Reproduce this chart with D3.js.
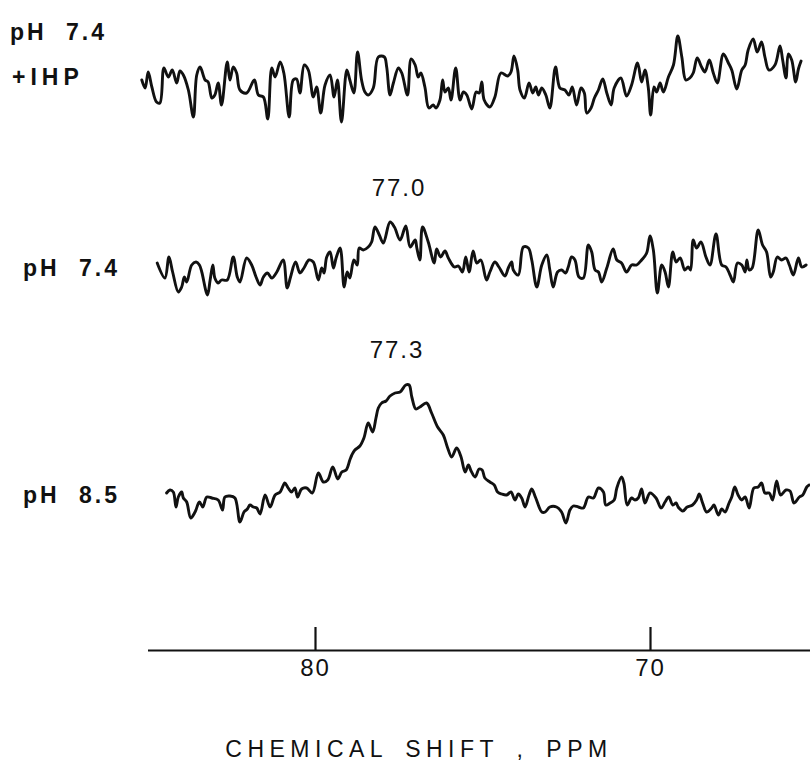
<!DOCTYPE html>
<html>
<head>
<meta charset="utf-8">
<script src="https://cdn.jsdelivr.net/npm/d3@7"></script>
<style>
  body { margin: 0; background: #fff; }
  text { font-family: "Liberation Sans", Arial, sans-serif; fill: #111; }
</style>
</head>
<body>
<div id="chart"></div>
<script>
// chemical shift (ppm), intensity (arbitrary units)
var ihp_trace = [
  [85.17,5],[85.07,-3],[84.98,13],[84.87,-2],[84.73,-17],[84.63,-18],[84.51,17],[84.38,8],[84.26,15],[84.13,2],
  [84.03,14],[83.93,10],[83.78,-5],[83.63,-32],[83.53,10],[83.43,18],[83.28,5],[83.19,3],[83.08,-13],[82.99,-10],
  [82.89,2],[82.79,-20],[82.62,23],[82.54,5],[82.44,18],[82.34,12],[82.24,-5],[82.04,-8],[81.81,5],[81.69,-10],
  [81.54,-12],[81.41,-34],[81.29,17],[81.19,8],[81.04,23],[80.93,12],[80.77,-32],[80.65,5],[80.55,6],[80.45,-8],
  [80.32,20],[80.20,15],[80.05,-12],[79.95,-2],[79.83,-28],[79.70,0],[79.55,10],[79.43,-12],[79.33,5],[79.21,-37],
  [79.05,15],[78.96,5],[78.84,-8],[78.73,33],[78.61,5],[78.51,-7],[78.41,-10],[78.26,-3],[78.11,28],[77.93,28],
  [77.86,18],[77.76,-10],[77.66,2],[77.51,17],[77.41,12],[77.24,-10],[77.13,26],[77.01,20],[76.92,8],[76.84,12],
  [76.72,-2],[76.60,-23],[76.47,-20],[76.39,-23],[76.27,-15],[76.19,5],[76.12,-7],[76.02,-3],[75.94,-15],[75.80,17],
  [75.67,-15],[75.57,-7],[75.47,-10],[75.32,-24],[75.19,-7],[75.10,-8],[75.02,3],[74.95,-15],[74.78,-22],[74.63,-12],
  [74.45,12],[74.25,9],[74.15,13],[74.06,29],[73.95,15],[73.88,-5],[73.75,-13],[73.61,2],[73.50,-8],[73.41,-2],
  [73.33,-10],[73.23,-3],[73.11,-10],[72.99,-23],[72.82,18],[72.69,-3],[72.54,-5],[72.42,-10],[72.32,-2],[72.19,-20],
  [72.06,-3],[71.96,-8],[71.89,-28],[71.76,-23],[71.66,-13],[71.54,-5],[71.41,6],[71.29,-8],[71.16,-20],[71.07,-3],
  [70.87,7],[70.70,-11],[70.55,0],[70.37,22],[70.25,3],[70.15,15],[70.05,-3],[69.98,-30],[69.88,-2],[69.80,-7],
  [69.70,2],[69.60,-7],[69.45,8],[69.30,20],[69.17,49],[69.05,28],[68.93,5],[68.81,7],[68.71,12],[68.59,27],
  [68.46,18],[68.36,13],[68.23,25],[68.11,12],[67.99,2],[67.81,31],[67.66,22],[67.56,15],[67.41,-4],[67.26,15],
  [67.16,20],[67.07,35],[66.92,46],[66.80,33],[66.67,43],[66.57,28],[66.45,15],[66.27,20],[66.12,39],[66.04,25],
  [65.94,7],[65.87,31],[65.77,25],[65.65,3],[65.57,16],[65.49,24]
];

var ph74_trace = [
  [84.71,5],[84.48,-10],[84.36,11],[84.25,-4],[84.08,-24],[83.98,-19],[83.90,-9],[83.83,-14],[83.68,3],[83.55,6],
  [83.45,3],[83.38,-4],[83.21,-27],[83.13,-12],[83.05,3],[82.99,-10],[82.89,-15],[82.79,-12],[82.62,-12],[82.44,11],
  [82.32,-9],[82.24,-14],[82.04,10],[81.89,3],[81.76,-9],[81.64,-17],[81.54,-9],[81.42,-5],[81.29,-10],[81.14,-4],
  [80.95,8],[80.83,-20],[80.73,-9],[80.58,6],[80.45,-5],[80.33,0],[80.18,8],[80.05,6],[79.90,-12],[79.80,0],
  [79.73,-5],[79.65,11],[79.55,16],[79.45,0],[79.37,10],[79.25,20],[79.13,-19],[79.04,-4],[78.96,-10],[78.84,8],
  [78.74,3],[78.68,20],[78.56,18],[78.41,21],[78.31,26],[78.21,41],[78.08,33],[77.96,25],[77.76,46],[77.63,41],
  [77.46,28],[77.29,42],[77.16,21],[77.01,28],[76.96,20],[76.87,8],[76.79,41],[76.62,26],[76.44,5],[76.37,19],
  [76.25,11],[76.12,17],[76.02,10],[75.84,1],[75.72,2],[75.60,-4],[75.50,11],[75.40,-4],[75.28,17],[75.17,5],
  [75.05,8],[74.88,-12],[74.78,-4],[74.63,6],[74.51,1],[74.33,-8],[74.23,0],[74.13,6],[74.08,-2],[73.93,-7],
  [73.78,21],[73.63,20],[73.53,8],[73.38,-19],[73.23,3],[73.08,13],[72.99,-2],[72.89,-19],[72.76,-4],[72.64,-2],
  [72.52,-5],[72.44,1],[72.34,11],[72.24,8],[72.12,-9],[71.99,-10],[71.84,23],[71.74,16],[71.64,-2],[71.54,-4],
  [71.44,-14],[71.29,0],[71.10,19],[70.99,8],[70.85,5],[70.70,-4],[70.55,3],[70.40,3],[70.25,8],[70.10,15],
  [70.00,32],[69.90,18],[69.78,-25],[69.65,3],[69.55,-4],[69.45,-19],[69.32,16],[69.22,6],[69.10,10],[68.96,-2],
  [68.86,1],[68.79,-2],[68.71,28],[68.61,20],[68.48,26],[68.33,11],[68.21,3],[68.03,34],[67.86,3],[67.73,1],
  [67.61,-7],[67.51,-14],[67.39,5],[67.26,3],[67.16,-4],[67.11,8],[67.04,-2],[66.95,0],[66.77,38],[66.64,23],
  [66.52,16],[66.40,-9],[66.32,-4],[66.20,11],[66.07,8],[65.94,10],[65.84,3],[65.72,-7],[65.57,10],[65.47,1],
  [65.34,3]
];

var ph85_trace = [
  [84.43,4],[84.33,7],[84.23,5],[84.15,-10],[84.08,0],[83.98,5],[83.93,-1],[83.83,-5],[83.71,-21],[83.58,-15],
  [83.45,-5],[83.35,-10],[83.23,0],[83.08,-1],[82.89,-3],[82.76,-13],[82.69,0],[82.54,1],[82.39,-1],[82.24,-25],
  [82.12,-15],[82.02,-12],[81.94,-8],[81.84,-10],[81.74,-11],[81.64,-17],[81.49,2],[81.34,-10],[81.19,2],[81.04,5],
  [80.90,14],[80.80,9],[80.70,5],[80.60,9],[80.52,0],[80.40,8],[80.25,9],[80.08,4],[79.90,24],[79.75,15],
  [79.62,17],[79.47,30],[79.32,18],[79.20,25],[79.07,27],[78.96,37],[78.90,42],[78.81,47],[78.66,51],[78.54,59],
  [78.41,74],[78.28,65],[78.18,79],[78.11,89],[78.01,94],[77.88,96],[77.76,101],[77.61,104],[77.46,105],[77.29,112],
  [77.19,112],[77.11,100],[76.99,88],[76.87,90],[76.67,94],[76.52,84],[76.34,70],[76.17,62],[76.04,49],[75.92,40],
  [75.77,49],[75.64,40],[75.52,25],[75.42,32],[75.34,26],[75.22,20],[75.10,28],[75.01,27],[74.93,19],[74.78,15],
  [74.65,12],[74.55,5],[74.43,3],[74.28,2],[74.15,5],[74.03,-3],[73.93,3],[73.83,-1],[73.73,-10],[73.61,2],
  [73.53,8],[73.41,-1],[73.23,-15],[73.13,-15],[72.99,-10],[72.79,-10],[72.64,-15],[72.51,-26],[72.39,-13],[72.29,-9],
  [72.14,-10],[71.99,-11],[71.84,0],[71.69,-1],[71.54,9],[71.39,5],[71.32,-8],[71.19,-6],[71.07,-3],[70.99,9],
  [70.85,20],[70.78,14],[70.68,-8],[70.55,-1],[70.45,-3],[70.35,-1],[70.25,8],[70.15,-6],[70.00,4],[69.82,-1],
  [69.67,-11],[69.55,-5],[69.44,0],[69.32,-8],[69.22,-6],[69.16,-10],[69.02,-14],[68.89,-10],[68.73,-8],[68.61,-3],
  [68.53,3],[68.43,-6],[68.31,-15],[68.16,-11],[68.09,-8],[67.96,-18],[67.86,-12],[67.76,-15],[67.64,-6],[67.56,0],
  [67.47,10],[67.37,2],[67.26,-3],[67.16,0],[67.04,-11],[66.90,9],[66.77,10],[66.67,14],[66.57,4],[66.44,4],
  [66.34,-3],[66.22,16],[66.10,2],[65.94,7],[65.82,6],[65.70,-6],[65.54,0],[65.44,2],[65.32,10],[65.25,12]
];

var tick_values = [80, 70];
var trace_names = ['pH 7.4 +IHP', 'pH 7.4', 'pH 8.5'];
var peak_labels = ['77.0', '77.3'];
var axis_title = 'CHEMICAL SHIFT , PPM';

var width = 810;
var height = 769;

var svg = d3.select('#chart')
  .append('svg')
  .attr('width', width)
  .attr('height', height);

// ppm runs right to left
var x_scale = d3.scaleLinear()
  .domain([85, 65.2])
  .range([147.5, 810.8]);

// one vertical scale per trace, each centred on its own baseline
function make_y(base) {
  return d3.scaleLinear().domain([-50, 50]).range([base + 50, base - 50]);
}
var traces = [
  { data: ihp_trace, y: make_y(85) },
  { data: ph74_trace, y: make_y(268) },
  { data: ph85_trace, y: make_y(497) }
];

traces.forEach(function (t) {
  var line = d3.line()
    .curve(d3.curveCatmullRom.alpha(0.5))
    .x(function (d) { return x_scale(d[0]); })
    .y(function (d) { return t.y(d[1]); });
  svg.append('path')
    .datum(t.data)
    .attr('d', line)
    .attr('fill', 'none')
    .attr('stroke', '#111')
    .attr('stroke-width', 2.9)
    .attr('stroke-linejoin', 'round')
    .attr('stroke-linecap', 'round');
});

// x axis, ticks pointing up
var axis = d3.axisBottom(x_scale)
  .tickValues(tick_values)
  .tickSizeInner(-23)
  .tickSizeOuter(0)
  .tickPadding(9)
  .tickFormat(d3.format('d'));

var g_axis = svg.append('g')
  .attr('transform', 'translate(0,650)')
  .call(axis);
g_axis.select('.domain').attr('stroke', '#111').attr('stroke-width', 2.2);
g_axis.selectAll('.tick line').attr('stroke', '#111').attr('stroke-width', 2.2);
g_axis.selectAll('.tick text')
  .attr('fill', '#111')
  .style('font-size', '24px')
  .style('letter-spacing', '2px')
  .style('font-family', '"Liberation Sans", Arial, sans-serif');

svg.append('text')
  .attr('x', 419)
  .attr('y', 757)
  .attr('text-anchor', 'middle')
  .style('font-size', '23px')
  .style('letter-spacing', '5.5px')
  .style('word-spacing', '6px')
  .text(axis_title);

// trace labels
var lab = svg.append('g').style('font-weight', 'bold').style('font-size', '23px').style('letter-spacing', '3px');
lab.append('text').attr('x', 10).attr('y', 40).style('word-spacing', '10px').text(trace_names[0].slice(0, 6));
lab.append('text').attr('x', 12).attr('y', 85).style('letter-spacing', '5px').text(trace_names[0].slice(7));
lab.append('text').attr('x', 23).attr('y', 276).style('word-spacing', '10px').text(trace_names[1]);
lab.append('text').attr('x', 23).attr('y', 503).style('word-spacing', '10px').text(trace_names[2]);

// peak positions
svg.append('text').attr('x', 399).attr('y', 196).attr('text-anchor', 'middle')
  .style('font-size', '24px').style('letter-spacing', '2px').text(peak_labels[0]);
svg.append('text').attr('x', 397).attr('y', 358).attr('text-anchor', 'middle')
  .style('font-size', '24px').style('letter-spacing', '2px').text(peak_labels[1]);
</script>
</body>
</html>
